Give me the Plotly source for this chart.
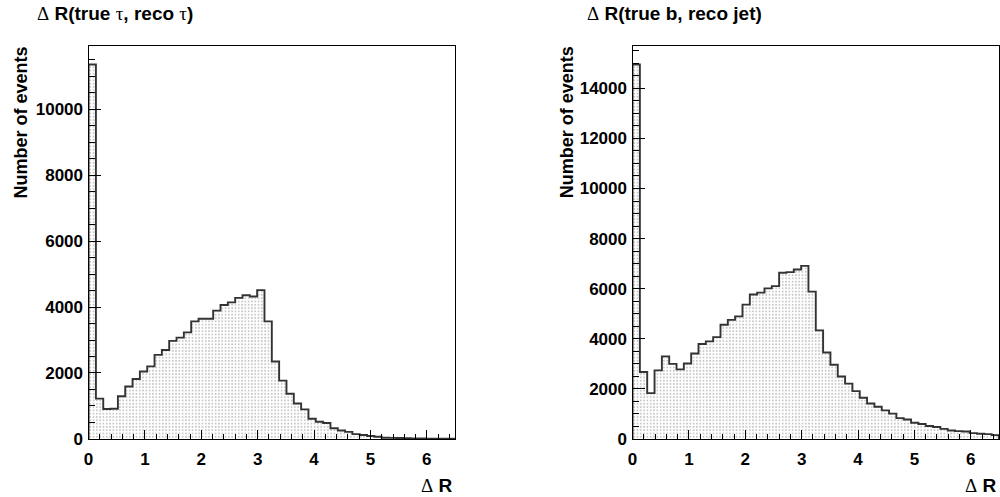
import numpy as np
import plotly.graph_objects as go

# Binning shared by both histograms: 50 bins over 0 <= dR < 6.5
n_bins = 50
x_min, x_max = 0.0, 6.5

# Delta R(true tau, reco tau): events per bin
dr_tau = [11350, 1224, 910, 918, 1295, 1591, 1816, 2044, 2201, 2548,
          2696, 2972, 3073, 3230, 3564, 3644, 3644, 3890, 4059, 4139,
          4276, 4356, 4317, 4513, 3564, 2350, 1769, 1372, 1076, 898,
          613, 524, 483, 326, 258, 216, 148, 119, 89, 68,
          39, 35, 28, 25, 20, 15, 12, 10, 8, 6]

# Delta R(true b, reco jet): events per bin
dr_b = [14950, 2676, 1831, 2740, 3299, 3000, 2779, 3013, 3415, 3792,
        3896, 4065, 4558, 4753, 4896, 5364, 5766, 5844, 6013, 6104,
        6636, 6662, 6766, 6909, 5883, 4337, 3454, 2961, 2493, 2208,
        1909, 1649, 1416, 1286, 1143, 1013, 831, 779, 649, 597,
        519, 480, 402, 338, 312, 299, 234, 207, 195, 156]

x_tick_vals = [0, 1, 2, 3, 4, 5, 6]
x_tick_text = ["0", "1", "2", "3", "4", "5", "6"]

edges = np.linspace(x_min, x_max, n_bins + 1)
centers = 0.5 * (edges[:-1] + edges[1:])
width = edges[1] - edges[0]

FONT = "Liberation Sans, Arial, Helvetica, sans-serif"
SYM = "font-family:'Liberation Serif', 'DejaVu Serif', serif; font-weight:normal"
OUTLINE = "#333333"

fig = go.Figure()


def add_hist(values, xa, ya):
    fig.add_trace(go.Bar(
        x=centers, y=values, width=width,
        xaxis=xa, yaxis=ya,
        marker=dict(
            color="white",
            line=dict(width=0),
            pattern=dict(shape=".", fgcolor="#8c8c8c", bgcolor="white",
                         size=3.3, solidity=0.25),
        ),
        showlegend=False, hoverinfo="skip",
    ))
    # step outline of the histogram
    sx = [edges[0]] + list(edges) + [edges[-1]]
    sy = [0] + list(values) + [values[-1], 0]
    fig.add_trace(go.Scatter(
        x=sx, y=sy, mode="lines",
        line=dict(color=OUTLINE, width=1.9, shape="hv"),
        xaxis=xa, yaxis=ya, showlegend=False, hoverinfo="skip",
    ))


add_hist(dr_tau, "x", "y")
add_hist(dr_b, "x2", "y2")

y_dom = [1 - 448 / 497, 1 - 46.7 / 497]
tick_font = dict(family=FONT, size=17, color="black", weight="bold")

common_x = dict(
    range=[x_min, x_max], tickmode="array", tickvals=x_tick_vals,
    ticktext=x_tick_text, ticks="inside", ticklen=9, tickwidth=1,
    tickcolor="black", showline=True, linecolor="black", linewidth=1.3,
    mirror=True, showgrid=False, zeroline=False, tickfont=tick_font,
    ticklabelstandoff=4,
    minor=dict(dtick=0.2, tick0=0, ticks="inside", ticklen=5,
               tickcolor="black", tickwidth=1, showgrid=False),
)
common_y = dict(
    tickmode="linear", tick0=0, dtick=2000, ticks="inside", ticklen=12,
    tickwidth=1, tickcolor="black", showline=True, linecolor="black",
    linewidth=1.3, mirror=True, showgrid=False, zeroline=False,
    tickfont=tick_font, tickformat="d", exponentformat="none",
    ticklabelstandoff=1,
    minor=dict(dtick=500, tick0=0, ticks="inside", ticklen=6,
               tickcolor="black", tickwidth=1, showgrid=False),
)

fig.update_layout(
    width=1000, height=497,
    margin=dict(l=0, r=0, t=0, b=0),
    paper_bgcolor="white", plot_bgcolor="white",
    bargap=0,
    xaxis=dict(domain=[0.084, 0.4523], anchor="y", **common_x),
    yaxis=dict(domain=y_dom, anchor="x",
               range=[0, 1.05 * max(dr_tau)], **common_y),
    xaxis2=dict(domain=[0.6307, 0.999], anchor="y2", **common_x),
    yaxis2=dict(domain=y_dom, anchor="x2",
                range=[0, 1.05 * max(dr_b)], **common_y),
)

title_font = dict(family=FONT, size=19, color="black", weight="bold")
axis_font = dict(family=FONT, size=18, color="black", weight="bold")
xlab_font = dict(family=FONT, size=19, color="black", weight="bold")

annotations = [
    # histogram titles
    dict(text=f"<span style=\"{SYM}\">Δ</span> R(true <span style=\"{SYM}\">τ</span>, reco <span style=\"{SYM}\">τ</span>)",
         x=30 / 1000, y=1 - 14 / 497, xanchor="left", yanchor="middle",
         font=title_font),
    dict(text=f"<span style=\"{SYM}\">Δ</span> R(true b, reco jet)",
         x=583 / 1000, y=1 - 14 / 497, xanchor="left", yanchor="middle",
         font=title_font),
    # y-axis titles
    dict(text="Number of events", textangle=-90,
         x=16.5 / 1000, y=1 - 45 / 497, xanchor="center", yanchor="top",
         font=axis_font),
    dict(text="Number of events", textangle=-90,
         x=565 / 1000, y=1 - 45 / 497, xanchor="center", yanchor="top",
         font=axis_font),
    # x-axis titles
    dict(text=f"<span style=\"{SYM}\">Δ</span> R",
         x=451 / 1000, y=1 - 485 / 497, xanchor="right", yanchor="middle",
         yshift=-10, font=xlab_font),
    dict(text=f"<span style=\"{SYM}\">Δ</span> R",
         x=998 / 1000, y=1 - 485 / 497, xanchor="right", yanchor="middle",
         yshift=-10, font=xlab_font),
]
for a in annotations:
    a.update(xref="paper", yref="paper", showarrow=False)
fig.update_layout(annotations=annotations)

fig.write_html("out.html")
